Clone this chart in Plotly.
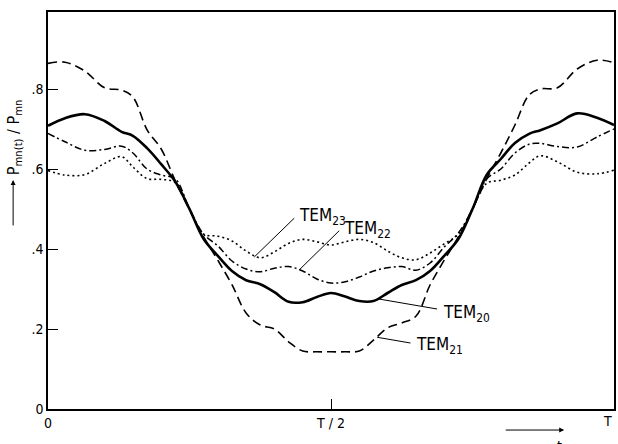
import plotly.graph_objects as go

# time as fraction of the period T
t = [0, .03, .065, .1, .13, .15, .175, .2, .225, .25, .275, .3, .325, .35, .375, .4, .425, .45, .475, .5,
     .525, .55, .575, .6, .625, .65, .675, .7, .725, .75, .775, .8, .825, .85, .87, .9, .935, .97, 1]

tem20 = [0.708, 0.727, 0.737, 0.720, 0.693, 0.683, 0.652, 0.612, 0.568, 0.500, 0.425, 0.383, 0.345, 0.322, 0.312,
         0.292, 0.268, 0.267, 0.280, 0.290,
         0.281, 0.270, 0.270, 0.290, 0.310, 0.322, 0.345, 0.383, 0.425, 0.500, 0.585, 0.625, 0.665, 0.688, 0.697,
         0.714, 0.739, 0.728, 0.710]
tem21 = [0.864, 0.867, 0.845, 0.803, 0.797, 0.780, 0.698, 0.650, 0.570, 0.498, 0.430, 0.372, 0.311, 0.240, 0.210,
         0.200, 0.168, 0.145, 0.143, 0.143,
         0.143, 0.145, 0.172, 0.203, 0.215, 0.232, 0.310, 0.372, 0.430, 0.500, 0.575, 0.640, 0.710, 0.785, 0.800,
         0.803, 0.850, 0.872, 0.866]
tem22 = [0.689, 0.668, 0.647, 0.649, 0.657, 0.640, 0.600, 0.585, 0.575, 0.500, 0.437, 0.408, 0.370, 0.350, 0.343,
         0.352, 0.356, 0.345, 0.325, 0.315,
         0.318, 0.330, 0.345, 0.353, 0.356, 0.347, 0.365, 0.405, 0.440, 0.500, 0.575, 0.600, 0.640, 0.662, 0.664,
         0.656, 0.655, 0.680, 0.700]
tem23 = [0.596, 0.585, 0.586, 0.614, 0.631, 0.605, 0.576, 0.574, 0.566, 0.500, 0.437, 0.432, 0.420, 0.395, 0.378,
         0.393, 0.414, 0.424, 0.418, 0.410,
         0.418, 0.424, 0.416, 0.395, 0.378, 0.373, 0.390, 0.413, 0.437, 0.500, 0.564, 0.572, 0.585, 0.615, 0.633,
         0.618, 0.592, 0.588, 0.597]

x_tickvals = [0, 0.5]
x_ticktext = ["0", "T / 2"]
x_end_label = "T"
y_tickvals = [0, 0.2, 0.4, 0.6, 0.8]
y_ticktext = ["0", ".2", ".4", ".6", ".8"]

# label texts, label anchor, leader start, leader end (data coordinates)
labels = ["TEM<sub>23</sub>", "TEM<sub>22</sub>", "TEM<sub>20</sub>", "TEM<sub>21</sub>"]
label_x = [0.440, 0.520, 0.694, 0.647]
label_y = [0.4825, 0.450, 0.240, 0.160]
lead_x0 = [0.4378, 0.5171, 0.6901, 0.6431]
lead_y0 = [0.4808, 0.4493, 0.2493, 0.1643]
lead_x1 = [0.3644, 0.4437, 0.5845, 0.5815]
lead_y1 = [0.380, 0.3475, 0.275, 0.1793]

FONT = "DejaVu Sans Condensed, DejaVu Sans, Arial, sans-serif"

fig = go.Figure()
fig.add_trace(go.Scatter(x=t, y=tem21, mode="lines", line=dict(color="black", width=1.6, dash="9px,5px", shape="spline", smoothing=1)))
fig.add_trace(go.Scatter(x=t, y=tem22, mode="lines", line=dict(color="black", width=1.5, dash="7px,3px,2px,3px", shape="spline", smoothing=1)))
fig.add_trace(go.Scatter(x=t, y=tem23, mode="lines", line=dict(color="black", width=1.6, dash="2px,3px", shape="spline", smoothing=1)))
fig.add_trace(go.Scatter(x=t, y=tem20, mode="lines", line=dict(color="black", width=2.6, shape="spline", smoothing=1)))

anns = []
for i in range(len(labels)):
    anns.append(dict(x=lead_x1[i], y=lead_y1[i], ax=lead_x0[i], ay=lead_y0[i], axref="x", ayref="y",
                     xref="x", yref="y", text="", showarrow=True, arrowhead=0, arrowwidth=1, arrowcolor="black",
                     standoff=0, startstandoff=0))
    anns.append(dict(x=label_x[i], y=label_y[i], xref="x", yref="y", text=labels[i], showarrow=False,
                     xanchor="left", yanchor="middle", font=dict(size=17, color="black", family=FONT)))

# end-of-period tick label
anns.append(dict(x=1.0, y=-0.006, xref="paper", yref="paper", text=x_end_label, showarrow=False,
                 xanchor="right", yanchor="top", font=dict(size=14, color="black", family=FONT)))
# y-axis title and its arrow
anns.append(dict(x=-0.0599, y=0.685, xref="paper", yref="paper", text="P<sub>mn(t)</sub> / P<sub>mn</sub>",
                 textangle=-90, showarrow=False, font=dict(size=16, color="black", family=FONT),
                 xanchor="center", yanchor="middle"))
anns.append(dict(x=-0.0616, y=0.577, xref="paper", yref="paper", ax=0, ay=47, text="", showarrow=True,
                 arrowhead=2, arrowsize=1, arrowwidth=1, arrowcolor="black", standoff=0))
# time arrow
anns.append(dict(x=0.912, y=-0.053, xref="paper", yref="paper", ax=-60, ay=0, text="", showarrow=True,
                 arrowhead=2, arrowsize=1, arrowwidth=1, arrowcolor="black", standoff=0))
anns.append(dict(x=0.903, y=-0.068, xref="paper", yref="paper", text="t", showarrow=False,
                 xanchor="center", yanchor="top", font=dict(size=14, color="black", family=FONT)))

fig.update_layout(
    width=618, height=444,
    margin=dict(l=48, r=2, t=12, b=35),
    paper_bgcolor="white", plot_bgcolor="white",
    showlegend=False,
    annotations=anns,
    font=dict(family=FONT, color="black", size=14),
)
fig.update_xaxes(range=[0, 1], tickvals=x_tickvals, ticktext=x_ticktext, ticks="inside", ticklen=10,
                 tickcolor="black", tickwidth=1, showgrid=False, zeroline=False, showline=True, mirror=True,
                 linecolor="black", linewidth=1.5, tickfont=dict(size=14, family=FONT), fixedrange=True)
fig.update_yaxes(range=[0, 0.9925], tickvals=y_tickvals, ticktext=y_ticktext, ticks="inside", ticklen=10,
                 tickcolor="black", tickwidth=1, showgrid=False, zeroline=False, showline=True, mirror=True,
                 linecolor="black", linewidth=1.5, tickfont=dict(size=14, family=FONT), fixedrange=True)

fig.write_html("out.html")
